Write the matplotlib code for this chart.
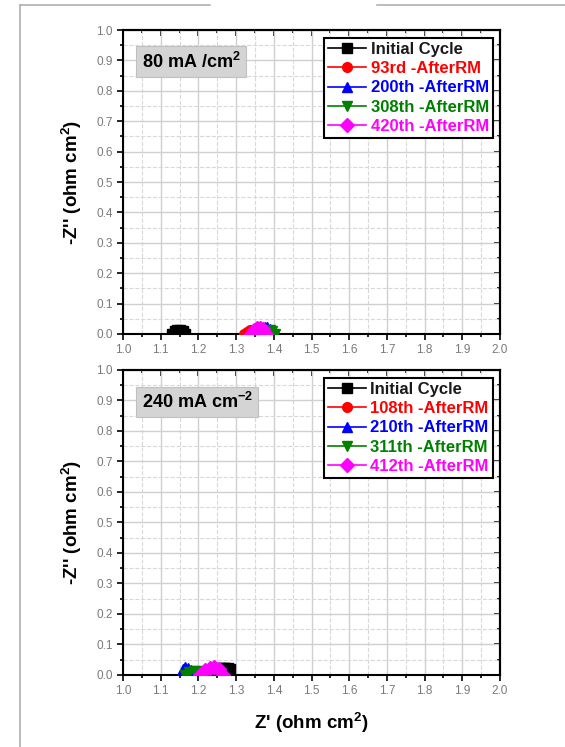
import matplotlib.pyplot as plt
from matplotlib.lines import Line2D
from matplotlib.ticker import MultipleLocator

plt.rcParams['font.family'] = ['Liberation Sans', 'DejaVu Sans']
plt.rcParams['mathtext.fontset'] = 'custom'
plt.rcParams['mathtext.rm'] = 'Liberation Sans'
plt.rcParams['mathtext.bf'] = 'Liberation Sans:bold'

# Nyquist points, 80 mA/cm2
labels_80 = ['Initial Cycle', '93rd -AfterRM', '200th -AfterRM', '308th -AfterRM', '420th -AfterRM']
zre_80 = [
    [1.130, 1.137, 1.144, 1.151, 1.158, 1.165],
    [1.320, 1.328, 1.336, 1.344, 1.352, 1.360],
    [1.365, 1.371, 1.377, 1.383, 1.389, 1.395],
    [1.372, 1.378, 1.384, 1.390, 1.396, 1.402],
    [1.340, 1.348, 1.356, 1.364, 1.372, 1.380],
]
zim_80 = [
    [0.000, 0.010, 0.012, 0.012, 0.010, 0.000],
    [0.000, 0.008, 0.012, 0.013, 0.010, 0.000],
    [0.000, 0.015, 0.022, 0.024, 0.018, 0.000],
    [0.000, 0.006, 0.010, 0.012, 0.010, 0.000],
    [0.000, 0.014, 0.019, 0.020, 0.015, 0.000],
]

# Nyquist points, 240 mA/cm2
labels_240 = ['Initial Cycle', '108th -AfterRM', '210th -AfterRM', '311th -AfterRM', '412th -AfterRM']
zre_240 = [
    [1.250, 1.257, 1.264, 1.271, 1.278, 1.285],
    [1.170, 1.178, 1.186, 1.194, 1.202, 1.210],
    [1.150, 1.158, 1.165, 1.172, 1.180, 1.188],
    [1.165, 1.176, 1.187, 1.198, 1.209, 1.220],
    [1.205, 1.218, 1.230, 1.242, 1.254, 1.266],
]
zim_240 = [
    [0.020, 0.022, 0.022, 0.022, 0.022, 0.020],
    [0.000, 0.008, 0.011, 0.011, 0.008, 0.000],
    [0.000, 0.018, 0.025, 0.024, 0.016, 0.000],
    [0.000, 0.009, 0.012, 0.012, 0.010, 0.000],
    [0.000, 0.016, 0.024, 0.025, 0.018, 0.000],
]

colors = ['black', 'red', 'blue', 'green', 'magenta']
markers = ['s', 'o', '^', 'v', 'D']

fig = plt.figure(figsize=(5.65, 7.47), dpi=100)

# page edges
fig.add_artist(Line2D([0.036, 0.036], [0.0, 0.993], color='#b0b0b0', lw=1.2))
fig.add_artist(Line2D([0.036, 0.372], [0.993, 0.993], color='#b0b0b0', lw=1.2))
fig.add_artist(Line2D([0.668, 1.0], [0.993, 0.993], color='#b0b0b0', lw=1.2))

ax1 = fig.add_axes([0.2177, 0.5529, 0.6673, 0.4069])
ax2 = fig.add_axes([0.2177, 0.0964, 0.6673, 0.4083])


def draw_panel(ax, zre, zim, labels, tag):
    order = [0, 1, 3, 2, 4]
    for i in order:
        ax.plot(zre[i], zim[i], color=colors[i], marker=markers[i], ms=7,
                lw=1.2, label=labels[i], zorder=3 + i)
    ax.set_xlim(1.0, 2.0)
    ax.set_ylim(0.0, 1.0)
    ax.xaxis.set_major_locator(MultipleLocator(0.1))
    ax.xaxis.set_minor_locator(MultipleLocator(0.05))
    ax.yaxis.set_major_locator(MultipleLocator(0.1))
    ax.yaxis.set_minor_locator(MultipleLocator(0.05))
    ax.set_xticklabels([f'{v:.1f}' for v in ax.get_xticks()])
    ax.set_yticklabels([f'{v:.1f}' for v in ax.get_yticks()])
    ax.grid(which='major', color='#d0d0d0', lw=1.0)
    ax.grid(which='minor', color='#d8d8d8', lw=0.8, ls='--')
    ax.set_axisbelow(True)
    for s in ax.spines.values():
        s.set_linewidth(1.5)
    ax.tick_params(which='both', labelsize=8.5, labelcolor='#7a7a7a', width=1.2,
                   direction='out')
    ax.tick_params(which='major', length=4)
    ax.tick_params(which='minor', length=2.5)
    # inward ticks on the top and right edges
    sec_x = ax.secondary_xaxis('top')
    sec_y = ax.secondary_yaxis('right')
    for sec, axis in ((sec_x, sec_x.xaxis), (sec_y, sec_y.yaxis)):
        axis.set_major_locator(MultipleLocator(0.1))
        axis.set_minor_locator(MultipleLocator(0.05))
        sec.tick_params(which='both', direction='in', width=1.2,
                        labeltop=False, labelright=False)
        sec.tick_params(which='major', length=4)
        sec.tick_params(which='minor', length=2.5)
        for s in sec.spines.values():
            s.set_linewidth(1.5)
    ax.set_ylabel("-Z'' (ohm cm$^\\mathbf{2}$)", fontsize=13.5, fontweight='bold', labelpad=9)

    handles, labs = ax.get_legend_handles_labels()
    idx = [labs.index(l) for l in labels]
    leg = ax.legend([handles[k] for k in idx], [labs[k] for k in idx],
                    loc='upper right', bbox_to_anchor=(0.99, 0.985),
                    fancybox=False, edgecolor='black', framealpha=1,
                    prop={'weight': 'bold', 'size': 12}, handlelength=2.3,
                    handletextpad=0.25, borderpad=0.25, labelspacing=0.25,
                    borderaxespad=0.2)
    leg.get_frame().set_linewidth(1.5)
    for t, c in zip(leg.get_texts(), colors):
        t.set_color(c if c != 'black' else '#1a1a1a')

    ax.text(0.05, 0.895, tag, transform=ax.transAxes, fontsize=13,
            fontweight='bold', va='center', ha='left',
            bbox=dict(boxstyle='square,pad=0.3', fc='#d4d4d4', ec='#c0c0c0', lw=0.8))


draw_panel(ax1, zre_80, zim_80, labels_80, '80 mA /cm$^\\mathbf{2}$')
draw_panel(ax2, zre_240, zim_240, labels_240, '240 mA cm$^\\mathbf{-2}$')
ax2.set_xlabel("Z' (ohm cm$^\\mathbf{2}$)", fontsize=13.5, fontweight='bold', labelpad=9)

fig.savefig('out.png', dpi=100)
